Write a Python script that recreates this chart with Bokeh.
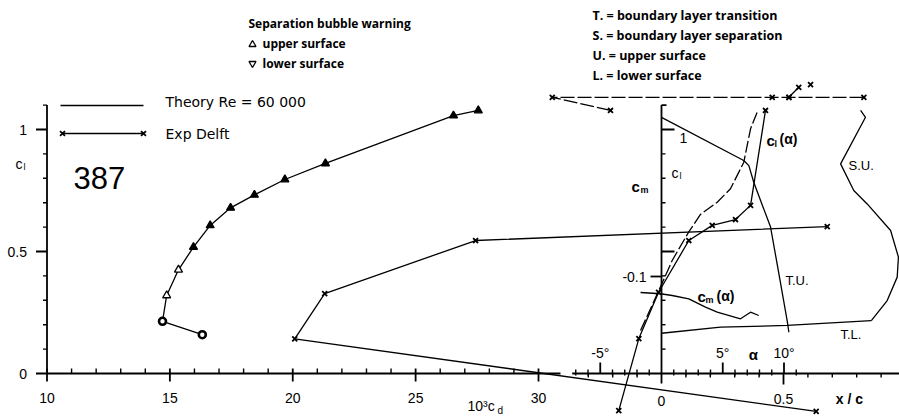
from bokeh.plotting import figure
from bokeh.models import Range1d
from bokeh.core.properties import value
from bokeh.embed import file_html
from bokeh.resources import INLINE

# ------------------------------------------------------------------ data
# Theory drag polar, Re = 60 000   (x: 10^3 c_d, y: c_l)
THEORY_CD = [16.32, 14.70, 14.87, 15.35, 15.96, 16.64, 17.47, 18.44, 19.68, 21.33, 26.54, 27.55]
THEORY_CL = [0.159, 0.214, 0.320, 0.425, 0.518, 0.607, 0.679, 0.732, 0.795, 0.861, 1.057, 1.078]
# separation bubble warning per theory point: none / upper (open) / upper (dark print)
THEORY_BUBBLE = ["none", "none", "upper", "upper", "upper_dark", "upper_dark", "upper_dark",
                 "upper_dark", "upper_dark", "upper_dark", "upper_dark", "upper_dark"]

# Experiment Delft drag polar (points partly beyond the c_d scale)
EXP_CD = [41.30, 20.08, 21.30, 27.44, 41.75]
EXP_CL = [-0.155, 0.142, 0.327, 0.545, 0.602]
EXP_HIGH_CD = [32.93, 30.56, 39.51, 40.19, 43.24]
EXP_HIGH_CL = [1.078, 1.132, 1.132, 1.132, 1.132]
EXP_EXTRA_CD = [40.19, 40.59]
EXP_EXTRA_CL = [1.132, 1.173]
EXP_LONE_CD = [41.07]
EXP_LONE_CL = [1.184]

# Lift curves c_l(alpha)
THEORY_ALPHA = [-1.71, -0.22, 0.87, 2.20, 3.18, 4.55, 5.63, 6.72, 7.27, 7.81]
THEORY_CL_A = [0.176, 0.340, 0.463, 0.578, 0.652, 0.702, 0.757, 0.866, 1.003, 1.071]
EXP_ALPHA = [-3.49, -1.85, -0.24, 2.23, 4.14, 6.04, 7.27, 8.49]
EXP_CL_A = [-0.152, 0.143, 0.333, 0.545, 0.607, 0.631, 0.689, 1.078]

# Moment curve c_m(alpha)
CM_ALPHA = [-1.71, -0.08, 0.87, 2.23, 3.59, 4.55, 6.45, 7.27, 7.94]
CM_VALUES = [-0.0835, -0.0822, -0.0804, -0.0770, -0.0684, -0.0632, -0.0564, -0.0632, -0.0598]

# Transition / separation locations (x/c, c_l)
TU_XC = [0.000, 0.337, 0.358, 0.378, 0.447, 0.481, 0.515, 0.522]
TU_CL = [1.050, 0.873, 0.852, 0.784, 0.600, 0.409, 0.217, 0.169]
TL_XC = [0.000, 0.242, 0.515, 0.860]
TL_CL = [0.165, 0.190, 0.197, 0.217]
SU_XC = [0.816, 0.836, 0.734, 0.788, 0.843, 0.939, 0.971, 0.966, 0.925, 0.860]
SU_CL = [1.078, 1.050, 0.859, 0.750, 0.695, 0.586, 0.477, 0.395, 0.299, 0.217]

# Axes ticks
CD_MAJOR = [10, 15, 20, 25, 30]
CD_LABELS = ["10", "15", "20", "25", "30"]
CD_MINOR = [11, 12, 13, 14, 16, 17, 18, 19, 21, 22, 23, 24, 26, 27, 28, 29]
CL_MAJOR = [0.0, 0.5, 1.0]
CL_LABELS = ["0", "0.5", "1"]
CL_MINOR = [0.1, 0.2, 0.3, 0.4, 0.6, 0.7, 0.8, 0.9, 1.1]
ALPHA_MAJOR = [-5, 5, 10]
ALPHA_LABELS = ["-5°", "5°", "10°"]
ALPHA_MINOR = [-7, -6, -4, -3, -2, -1, 1, 2, 3, 4, 6, 7, 8, 9, 11]
XC_MAJOR = [0.0, 0.5]
XC_LABELS = ["0", "0.5"]
XC_MINOR = [-0.3, -0.2, -0.1, 0.1, 0.2, 0.3, 0.4, 0.6, 0.7, 0.8, 0.9]
CLR_MAJOR = [0.5, 1.0]
CLR_LABELS = ["1"]
CLR_LABEL_POS = [1.0]
CLR_MINOR = [0.1, 0.2, 0.3, 0.4, 0.6, 0.7, 0.8, 0.9]
CM_MAJOR = [-0.1]
CM_LABELS = ["-0.1"]

# ------------------------------------------------------------------ scales
W, H = 899, 417
PX_CD = 24.575      # px per unit 10^3 c_d
PX_CL = 244.0       # px per unit c_l
PX_AL = 12.25       # px per degree
PX_XC = 244.0       # px per unit x/c
PX_CM = 970.0       # px per unit c_m
X_ORIG, Y_ORIG, A_ORIG = 46.5, 373.0, 661.0

X0 = 10 - X_ORIG / PX_CD
X1 = X0 + W / PX_CD
Y0 = -(H - Y_ORIG) / PX_CL
Y1 = Y_ORIG / PX_CL

p = figure(width=W, height=H, output_backend="svg", toolbar_location=None,
           x_range=Range1d(X0, X1), y_range=Range1d(Y0, Y1),
           x_axis_type=None, y_axis_type=None, min_border=0,
           background_fill_color="white", border_fill_color="white")
p.outline_line_color = None
p.extra_x_ranges = {
    "alpha": Range1d(-A_ORIG / PX_AL, (W - A_ORIG) / PX_AL),
    "xc": Range1d(-A_ORIG / PX_XC, (W - A_ORIG) / PX_XC),
}
p.extra_y_ranges = {"cm": Range1d((H - Y_ORIG) / PX_CM, -Y_ORIG / PX_CM)}


def PX(px):  # screen x -> c_d data
    return X0 + px / PX_CD


def PY(py):  # screen y (from top) -> c_l data
    return (Y_ORIG - py) / PX_CL


def txt(x, y, s, size="13px", font="Liberation Sans", style="normal", align="left",
        baseline="middle", **kw):
    p.text(x=[x], y=[y], text=[s], text_font=value(font), text_font_size=value(size),
           text_font_style=style, text_align=align, text_baseline=baseline,
           text_color="black", **kw)


INK = "black"
AXW = 1.8
LW = 1.3

# ------------------------------------------------------------------ left panel axes
p.segment(x0=[10], y0=[0], x1=[10], y1=[1.1], line_color=INK, line_width=AXW)
p.segment(x0=[10 - 11 / PX_CD] * 3, y0=CL_MAJOR, x1=[10] * 3, y1=CL_MAJOR,
          line_color=INK, line_width=AXW)
p.segment(x0=[10 - 4 / PX_CD] * len(CL_MINOR), y0=CL_MINOR, x1=[10] * len(CL_MINOR),
          y1=CL_MINOR, line_color=INK, line_width=1.4)
p.text(x=[10 - 20 / PX_CD] * 3, y=CL_MAJOR, text=CL_LABELS, text_font=value("Liberation Sans"),
       text_font_size=value("14px"), text_align="right", text_baseline="middle", text_color=INK)

p.segment(x0=[10], y0=[0], x1=[PX(560)], y1=[0], line_color=INK, line_width=AXW)
p.segment(x0=CD_MAJOR, y0=[-8 / PX_CL] * 5, x1=CD_MAJOR, y1=[5 / PX_CL] * 5,
          line_color=INK, line_width=AXW)
p.segment(x0=CD_MINOR, y0=[0] * len(CD_MINOR), x1=CD_MINOR, y1=[5 / PX_CL] * len(CD_MINOR),
          line_color=INK, line_width=1.4)
p.text(x=CD_MAJOR, y=[-24 / PX_CL] * 5, text=CD_LABELS, text_font=value("Liberation Sans"),
       text_font_size=value("14px"), text_align="center", text_baseline="middle", text_color=INK)
txt(PX(467), PY(405), "10³c", size="14px")
txt(PX(497), PY(410), "d", size="10px")
txt(PX(15), PY(163), "c", size="14px")
txt(PX(23), PY(166), "l", size="9px")

# ------------------------------------------------------------------ right panel axes
p.segment(x0=[(571.7 - A_ORIG) / PX_AL], y0=[0], x1=[(W - A_ORIG) / PX_AL], y1=[0],
          line_color=INK, line_width=AXW, x_range_name="alpha")
p.segment(x0=ALPHA_MINOR, y0=[-2 / PX_CL] * len(ALPHA_MINOR), x1=ALPHA_MINOR,
          y1=[4 / PX_CL] * len(ALPHA_MINOR), line_color=INK, line_width=1.4, x_range_name="alpha")
p.segment(x0=ALPHA_MAJOR, y0=[0] * 3, x1=ALPHA_MAJOR, y1=[11 / PX_CL] * 3,
          line_color=INK, line_width=AXW, x_range_name="alpha")
p.text(x=ALPHA_MAJOR, y=[21 / PX_CL] * 3, text=ALPHA_LABELS, text_font=value("Liberation Sans"),
       text_font_size=value("14px"), text_align="center", text_baseline="middle",
       text_color=INK, x_range_name="alpha")
txt(7.5, 19 / PX_CL, "α", size="15px", style="bold", align="center", x_range_name="alpha")

p.segment(x0=XC_MINOR, y0=[0] * len(XC_MINOR), x1=XC_MINOR, y1=[-4 / PX_CL] * len(XC_MINOR),
          line_color=INK, line_width=1.4, x_range_name="xc")
p.segment(x0=[0.5], y0=[0], x1=[0.5], y1=[-11 / PX_CL], line_color=INK, line_width=AXW,
          x_range_name="xc")
p.text(x=XC_MAJOR, y=[-27 / PX_CL, -25 / PX_CL], text=XC_LABELS,
       text_font=value("Liberation Sans"), text_font_size=value("14px"), text_align="center",
       text_baseline="middle", text_color=INK, x_range_name="xc")
txt(0.77, -25 / PX_CL, "x / c", size="14px", style="bold", align="center", x_range_name="xc")

# vertical c_l / c_m axis
p.segment(x0=[0], y0=[-10 / PX_CL], x1=[0], y1=[1.1], line_color=INK, line_width=AXW,
          x_range_name="xc")
p.segment(x0=[0], y0=[1.1], x1=[5 / PX_XC], y1=[1.1], line_color=INK, line_width=AXW,
          x_range_name="xc")
p.segment(x0=[0] * len(CLR_MINOR), y0=CLR_MINOR, x1=[4 / PX_XC] * len(CLR_MINOR), y1=CLR_MINOR,
          line_color=INK, line_width=1.4, x_range_name="xc")
p.segment(x0=[0] * 2, y0=CLR_MAJOR, x1=[13 / PX_XC] * 2, y1=CLR_MAJOR,
          line_color=INK, line_width=AXW, x_range_name="xc")
p.text(x=[22 / PX_XC], y=[CLR_LABEL_POS[0] - 8 / PX_CL], text=CLR_LABELS,
       text_font=value("Liberation Sans"), text_font_size=value("14px"), text_align="center",
       text_baseline="middle", text_color=INK, x_range_name="xc")
p.segment(x0=[-11 / PX_XC], y0=CM_MAJOR, x1=[0], y1=CM_MAJOR, line_color=INK, line_width=AXW,
          x_range_name="xc", y_range_name="cm")
p.text(x=[-15 / PX_XC], y=CM_MAJOR, text=CM_LABELS, text_font=value("Liberation Sans"),
       text_font_size=value("14px"), text_align="right", text_baseline="middle",
       text_color=INK, x_range_name="xc", y_range_name="cm")
txt(PX(631), PY(186), "c", size="15px", style="bold")
txt(PX(640), PY(189), "m", size="9px", style="bold")
txt(PX(671), PY(172), "c", size="14px")
txt(PX(679), PY(175), "l", size="9px")

# ------------------------------------------------------------------ polar curves
p.line(THEORY_CD, THEORY_CL, line_color=INK, line_width=LW)
for kind, marker, fill, sz in [("none", "circle", "white", 7), ("upper", "triangle", "white", 8),
                               ("upper_dark", "triangle", INK, 8)]:
    xs = [c for c, b in zip(THEORY_CD, THEORY_BUBBLE) if b == kind]
    ys = [c for c, b in zip(THEORY_CL, THEORY_BUBBLE) if b == kind]
    p.scatter(xs, ys, marker=marker, size=sz, fill_color=fill, line_color=INK,
              line_width=2.6 if kind == "none" else 1.3)

p.line(EXP_CD, EXP_CL, line_color=INK, line_width=LW)
p.line(EXP_HIGH_CD, EXP_HIGH_CL, line_color=INK, line_width=LW, line_dash="14 3")
p.line(EXP_EXTRA_CD, EXP_EXTRA_CL, line_color=INK, line_width=LW)
for xs, ys in [(EXP_CD, EXP_CL), (EXP_HIGH_CD, EXP_HIGH_CL), (EXP_EXTRA_CD, EXP_EXTRA_CL),
               (EXP_LONE_CD, EXP_LONE_CL)]:
    p.scatter(xs, ys, marker="x", size=7, line_color=INK, line_width=1.8)

# ------------------------------------------------------------------ alpha curves
p.line(THEORY_ALPHA, THEORY_CL_A, line_color=INK, line_width=LW, line_dash="12 3",
       x_range_name="alpha")
p.line(EXP_ALPHA, EXP_CL_A, line_color=INK, line_width=LW, x_range_name="alpha")
p.scatter(EXP_ALPHA, EXP_CL_A, marker="x", size=7, line_color=INK, line_width=1.8,
          x_range_name="alpha")
p.line(CM_ALPHA, CM_VALUES, line_color=INK, line_width=LW, x_range_name="alpha",
       y_range_name="cm")

p.line(TU_XC, TU_CL, line_color=INK, line_width=LW, x_range_name="xc")
p.line(TL_XC, TL_CL, line_color=INK, line_width=LW, x_range_name="xc")
p.line(SU_XC, SU_CL, line_color=INK, line_width=LW, x_range_name="xc")

# curve labels
txt(PX(766), PY(140), "c", size="15px", style="bold")
txt(PX(774), PY(143), "l", size="9px", style="bold")
txt(PX(779), PY(138), "(α)", size="14px", style="bold")
txt(PX(697), PY(296), "c", size="15px", style="bold")
txt(PX(705), PY(299), "m", size="9px", style="bold")
txt(PX(716), PY(295), "(α)", size="14px", style="bold")
txt(PX(848), PY(165), "S.U.", size="13px")
txt(PX(785), PY(280), "T.U.", size="13px")
txt(PX(840), PY(334), "T.L.", size="13px")

# ------------------------------------------------------------------ legends
LEG_FONT = "Open Sans"
txt(PX(248), PY(23), "Separation bubble warning", size="12px", font=LEG_FONT, style="bold")
p.scatter([PX(252)], [PY(44)], marker="triangle", size=7, fill_color="white",
          line_color=INK, line_width=1.3)
p.scatter([PX(252)], [PY(63)], marker="inverted_triangle", size=7, fill_color="white",
          line_color=INK, line_width=1.3)
txt(PX(262), PY(43), "upper surface", size="12px", font=LEG_FONT, style="bold")
txt(PX(262), PY(63), "lower surface", size="12px", font=LEG_FONT, style="bold")

txt(PX(592), PY(15), "T. = boundary layer transition", size="12.5px", font=LEG_FONT, style="bold")
txt(PX(592), PY(35), "S. = boundary layer separation", size="12.5px", font=LEG_FONT, style="bold")
txt(PX(592), PY(55), "U. = upper surface", size="12.5px", font=LEG_FONT, style="bold")
txt(PX(592), PY(75), "L. = lower surface", size="12.5px", font=LEG_FONT, style="bold")

p.line([PX(60), PX(143)], [PY(105), PY(105)], line_color=INK, line_width=LW)
txt(PX(165), PY(101), "Theory  Re = 60 000", size="14px", font="DejaVu Sans")
p.line([PX(62), PX(143)], [PY(133), PY(133)], line_color=INK, line_width=LW)
p.scatter([PX(62), PX(143)], [PY(133), PY(133)], marker="x", size=7, line_color=INK,
          line_width=1.8)
txt(PX(165), PY(133), "Exp  Delft", size="14px", font="DejaVu Sans")

txt(PX(73), PY(177), "387", size="31px")

open("out.html", "w").write(file_html(p, INLINE))
